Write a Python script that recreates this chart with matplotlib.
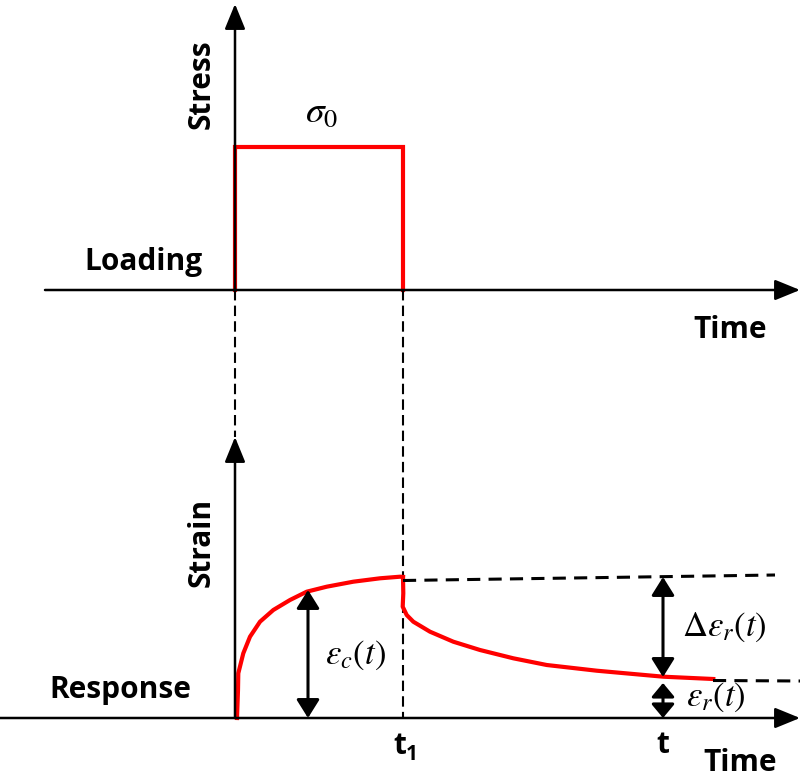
import numpy as np
import matplotlib.pyplot as plt

plt.rcParams['mathtext.fontset'] = 'stix'
LABEL_FONT = ['Open Sans', 'DejaVu Sans']

# key times (pixel-like diagram units)
t0, t1, t_obs = 235, 403, 663
# loading block
sigma0 = 147
load_base = 290
# response baseline
strain_base = 718

# creep branch (loading period)
creep_x = [237, 238, 238.3, 243.3, 250, 260, 273.3, 290, 306.7, 326.7, 353.3, 380, 400, 403]
creep_y = [718, 690, 673.3, 653.3, 636.7, 621.7, 610, 600, 591.7, 586.7, 581.7, 578.3, 576.7, 577]
# recovery branch (after unloading)
rec_x = [403, 403.3, 402.7, 406.7, 413.3, 430, 453.3, 480, 513.3, 546.7, 596.7, 663.3, 713.3]
rec_y = [577, 593.3, 606.7, 615, 621.7, 631.7, 641.7, 650, 658.3, 665, 670.7, 676.7, 679]
# reference dashed levels
upper_x, upper_y = [403, 775], [580.5, 575]
lower_x, lower_y = [713, 800], [680.5, 681]

fig = plt.figure(figsize=(8, 7.82), dpi=100)
ax = fig.add_axes([0, 0, 1, 1])
ax.set_xlim(0, 800)
ax.set_ylim(782, 0)
ax.axis('off')

arr = dict(arrowstyle='-|>,head_length=1.1,head_width=0.45', color='black', lw=1.8,
           shrinkA=0, shrinkB=0, mutation_scale=14)
dbl = dict(arrowstyle='<|-|>,head_length=0.8,head_width=0.5', color='black', lw=2.2,
           shrinkA=0, shrinkB=0, mutation_scale=14)
dbl_small = dict(dbl, arrowstyle='<|-|>,head_length=0.6,head_width=0.5')

# top axes
ax.annotate('', xy=(t0, 4), xytext=(t0, load_base), arrowprops=arr)
ax.annotate('', xy=(800, load_base), xytext=(45, load_base), arrowprops=arr)
# bottom axes
ax.annotate('', xy=(t0, 437), xytext=(t0, strain_base), arrowprops=arr)
ax.annotate('', xy=(800, strain_base), xytext=(0, strain_base), arrowprops=arr)

# loading block
ax.plot([t0, t0, t1, t1], [load_base, sigma0, sigma0, load_base], color='red', lw=3,
        solid_joinstyle='miter')

# dashed verticals
dash = dict(color='black', lw=1.5, ls=(0, (5, 2.5)))
ax.plot([t0, t0], [load_base, 437], **dash)
ax.plot([t1, t1], [load_base, strain_base], **dash)

# strain response
ax.plot(creep_x, creep_y, color='red', lw=3, solid_joinstyle='round')
ax.plot(rec_x, rec_y, color='red', lw=3, solid_joinstyle='round')
dash2 = dict(color='black', lw=2.2, ls=(0, (4.3, 2.7)))
ax.plot(upper_x, upper_y, **dash2)
ax.plot(lower_x, lower_y, **dash2)

# dimension arrows
ax.annotate('', xy=(308, 590), xytext=(308, strain_base), arrowprops=dbl)
ax.annotate('', xy=(t_obs, 577), xytext=(t_obs, 677), arrowprops=dbl)
ax.annotate('', xy=(t_obs, 683), xytext=(t_obs, strain_base), arrowprops=dbl_small)

# texts
bold = dict(family=LABEL_FONT, fontweight='bold', fontsize=21.5)
ax.text(202, 84, 'Stress', rotation=90, ha='center', va='center', **bold)
ax.text(143, 262, 'Loading', ha='center', va='center', **bold)
ax.text(730, 330, 'Time', ha='center', va='center', **bold)
ax.text(202, 542, 'Strain', rotation=90, ha='center', va='center', **bold)
ax.text(120, 690, 'Response', ha='center', va='center', **bold)
ax.text(740, 763, 'Time', ha='center', va='center', **bold)
ax.text(t1 - 3, 746, 't', ha='center', va='center', **bold)
ax.text(t1 + 9, 755, '1', ha='center', va='center', family=LABEL_FONT,
        fontweight='bold', fontsize=15)
ax.text(t_obs, 745, 't', ha='center', va='center', **bold)

ax.text(322, 112, r'$\sigma_0$', ha='center', va='center', fontsize=27)
ax.text(355, 655, r'$\varepsilon_c\left(t\right)$', ha='center', va='center', fontsize=25)
ax.text(724, 627, r'$\Delta\varepsilon_r\left(t\right)$', ha='center', va='center', fontsize=25)
ax.text(716, 697, r'$\varepsilon_r\left(t\right)$', ha='center', va='center', fontsize=25)

fig.savefig('out.png', dpi=100)
